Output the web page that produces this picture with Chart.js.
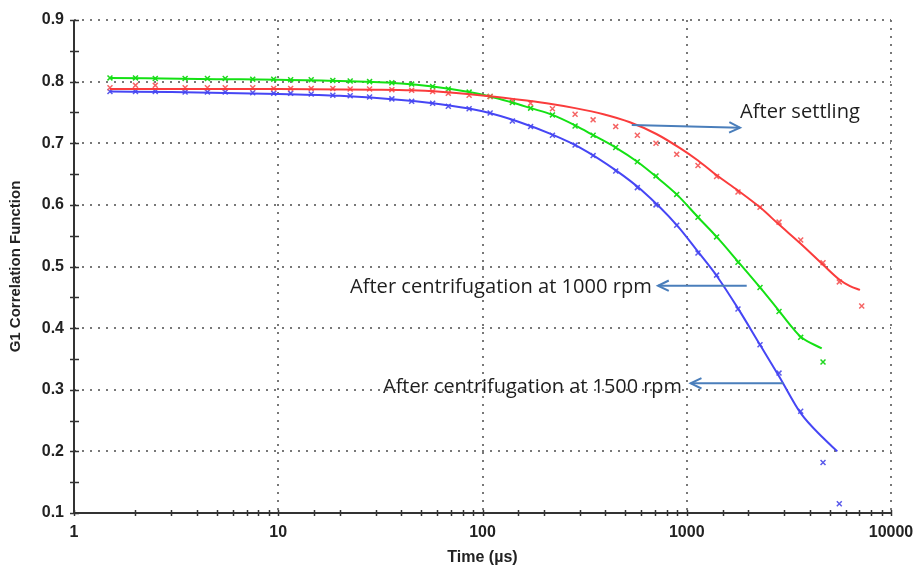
<!DOCTYPE html>
<html>
<head>
<meta charset="utf-8">
<script src="https://cdn.jsdelivr.net/npm/chart.js@4.4.1/dist/chart.umd.min.js"></script>
<style>
html, body { margin: 0; padding: 0; background: #fff; }
#wrap { width: 917px; height: 566px; position: relative; }
</style>
</head>
<body>
<div id="wrap"><canvas id="g1"></canvas></div>
<script>
// lag times of the measured points (us)
var timeUs = [1.5, 2, 2.5, 3.5, 4.5, 5.5, 7.5, 9.5, 11.5, 14.5, 18.5, 22.5, 28, 36, 45, 57, 68, 86,
    109, 140, 172, 220, 284, 348, 449, 573, 707, 893, 1135, 1400, 1782, 2284, 2830, 3613, 4647, 5583, 7188];

// measured G1 values
var settling = [0.790, 0.794, 0.794, 0.790, 0.790, 0.790, 0.790, 0.789, 0.789, 0.789, 0.789, 0.788, 0.788, 0.787, 0.786, 0.784, 0.781, 0.778,
    0.776, 0.769, 0.765, 0.756, 0.747, 0.738, 0.727, 0.713, 0.700, 0.682, 0.664, 0.646, 0.621, 0.596, 0.572, 0.543, 0.506, 0.475, 0.436];
var rpm1000 = [0.806, 0.806, 0.805, 0.805, 0.805, 0.805, 0.804, 0.804, 0.803, 0.803, 0.802, 0.801, 0.800, 0.798, 0.796, 0.792, 0.788, 0.783,
    0.776, 0.766, 0.757, 0.746, 0.728, 0.713, 0.693, 0.670, 0.647, 0.617, 0.580, 0.548, 0.507, 0.466, 0.427, 0.385, 0.345];
var rpm1500 = [0.784, 0.784, 0.784, 0.783, 0.783, 0.783, 0.782, 0.781, 0.781, 0.780, 0.778, 0.777, 0.775, 0.772, 0.768, 0.765, 0.760, 0.756,
    0.749, 0.736, 0.727, 0.713, 0.697, 0.680, 0.655, 0.628, 0.600, 0.567, 0.522, 0.486, 0.431, 0.373, 0.327, 0.265, 0.182, 0.115];

// fitted curves
var fitSettlingT = [1.5, 3, 10, 30, 45, 60, 97, 141, 206, 284, 391, 527, 710, 927, 1135, 1402, 1788, 2284, 2830, 3613, 4647, 5583, 6300, 7050];
var fitSettling = [0.788, 0.788, 0.788, 0.787, 0.786, 0.784, 0.778, 0.772, 0.765, 0.757, 0.747, 0.734, 0.715, 0.692, 0.672, 0.648, 0.623, 0.596, 0.568, 0.537, 0.503, 0.479, 0.468, 0.462];
var fit1000T = [1.5, 5, 10, 20, 40, 57, 86, 109, 140, 172, 220, 284, 349, 449, 573, 707, 893, 1135, 1402, 1782, 2284, 2830, 3265, 3613, 4580];
var fit1000 = [0.806, 0.804, 0.803, 0.801, 0.797, 0.792, 0.783, 0.776, 0.766, 0.757, 0.746, 0.729, 0.713, 0.693, 0.670, 0.646, 0.617, 0.580, 0.548, 0.508, 0.466, 0.428, 0.402, 0.386, 0.367];
var fit1500T = [1.5, 3, 10, 20, 40, 70, 100, 150, 220, 300, 450, 600, 900, 1135, 1400, 1782, 2284, 2830, 3613, 4647, 5460];
var fit1500 = [0.784, 0.783, 0.780, 0.777, 0.770, 0.761, 0.752, 0.735, 0.714, 0.693, 0.656, 0.624, 0.566, 0.524, 0.485, 0.432, 0.373, 0.322, 0.262, 0.222, 0.200];

var xMin = 1, xMax = 10000;
var yMin = 0.1, yMax = 0.9;

function pts(xs, ys) {
    var out = [];
    for (var i = 0; i < ys.length; i++) out.push({x: xs[i], y: ys[i]});
    return out;
}
function isDecade(v) {
    var l = Math.log10(v);
    return Math.abs(l - Math.round(l)) < 1e-9;
}
function isTenth(v) {
    return Math.abs(v * 10 - Math.round(v * 10)) < 1e-6;
}

// text labels with arrows, placed in data units
var notes = [
    {text: 'After settling', x0: 1823, x1: 7050, y: 0.7507, a0: [538, 0.7296], a1: [1823, 0.7252]},
    {text: 'After centrifugation at 1000 rpm', x0: 22.45, x1: 676, y: 0.4667, a0: [1966, 0.4688], a1: [723, 0.4688]},
    {text: 'After centrifugation at 1500 rpm', x0: 32.6, x1: 948, y: 0.3045, a0: [2970, 0.3105], a1: [1045, 0.3105]}
];

var axesAndNotes = {
    id: 'axesAndNotes',
    afterDraw: function (chart) {
        var c = chart.ctx, xs = chart.scales.x, ys = chart.scales.y, a = chart.chartArea;
        c.save();
        // solid axes with crossing tick marks
        c.strokeStyle = '#333';
        c.lineWidth = 2;
        c.beginPath();
        c.moveTo(a.left, a.top); c.lineTo(a.left, a.bottom); c.lineTo(a.right, a.bottom);
        c.stroke();
        c.lineWidth = 1.5;
        ys.ticks.forEach(function (t) {
            var py = Math.round(ys.getPixelForValue(t.value)) + 0.5;
            c.beginPath(); c.moveTo(a.left - 4, py); c.lineTo(a.left + 5, py); c.stroke();
        });
        xs.ticks.forEach(function (t) {
            var px = Math.round(xs.getPixelForValue(t.value)) + 0.5;
            c.beginPath(); c.moveTo(px, a.bottom - 3); c.lineTo(px, a.bottom + 3); c.stroke();
        });
        // annotations
        notes.forEach(function (n) {
            var left = xs.getPixelForValue(n.x0), right = xs.getPixelForValue(n.x1);
            c.font = '17px "Open Sans"';
            var size = 17 * (right - left) / c.measureText(n.text).width;
            c.font = size.toFixed(1) + 'px "Open Sans"';
            c.fillStyle = '#1e1e1e';
            c.textAlign = 'left';
            c.textBaseline = 'middle';
            c.fillText(n.text, left, ys.getPixelForValue(n.y));
            var p0x = xs.getPixelForValue(n.a0[0]), p0y = ys.getPixelForValue(n.a0[1]);
            var p1x = xs.getPixelForValue(n.a1[0]), p1y = ys.getPixelForValue(n.a1[1]);
            var ang = Math.atan2(p1y - p0y, p1x - p0x);
            c.strokeStyle = '#4a7ebb';
            c.lineWidth = 2;
            c.beginPath(); c.moveTo(p0x, p0y); c.lineTo(p1x, p1y); c.stroke();
            c.beginPath();
            c.moveTo(p1x - 12 * Math.cos(ang - 0.45), p1y - 12 * Math.sin(ang - 0.45));
            c.lineTo(p1x, p1y);
            c.lineTo(p1x - 12 * Math.cos(ang + 0.45), p1y - 12 * Math.sin(ang + 0.45));
            c.stroke();
        });
        c.restore();
    }
};

function lineSet(data, color) {
    return {data: data, showLine: true, borderColor: color, borderWidth: 2, pointRadius: 0,
        cubicInterpolationMode: 'monotone', fill: false};
}
function markSet(data, color) {
    return {data: data, showLine: false, pointStyle: 'crossRot', pointRadius: 3.5, borderWidth: 1.5,
        borderColor: color, backgroundColor: color};
}

var gridColor = 'rgba(105,105,105,0.9)';

var config = {
    type: 'scatter',
    data: {
        datasets: [
            lineSet(pts(fitSettlingT, fitSettling), 'rgb(250,60,60)'),
            lineSet(pts(fit1000T, fit1000), 'rgb(20,225,20)'),
            lineSet(pts(fit1500T, fit1500), 'rgb(70,70,245)'),
            markSet(pts(timeUs, settling), 'rgb(245,100,100)'),
            markSet(pts(timeUs, rpm1000), 'rgb(30,215,30)'),
            markSet(pts(timeUs, rpm1500), 'rgb(90,90,235)')
        ]
    },
    options: {
        responsive: true,
        maintainAspectRatio: false,
        animation: false,
        devicePixelRatio: 1,
        layout: {padding: {left: 0, right: 26, top: 20, bottom: 0}},
        plugins: {legend: {display: false}, tooltip: {enabled: false}},
        scales: {
            x: {
                type: 'logarithmic',
                min: xMin, max: xMax,
                afterFit: function (s) { s.height = 53; s.paddingLeft = 0; s.paddingRight = 0; },
                grid: {
                    color: function (ctx) { return ctx.tick && isDecade(ctx.tick.value) ? gridColor : 'rgba(0,0,0,0)'; },
                    lineWidth: 2, borderDash: [2, 6], drawTicks: false
                },
                border: {display: false, dash: [2, 6]},
                ticks: {
                    autoSkip: false, maxRotation: 0, padding: 10, color: '#222',
                    font: {family: 'Arial, "Liberation Sans"', size: 16, weight: 'bold'},
                    callback: function (v) { return isDecade(v) ? String(Math.round(v)) : ''; }
                },
                title: {display: true, text: 'Time (µs)', color: '#222', padding: {top: 0, bottom: 0},
                    font: {family: 'Arial, "Liberation Sans"', size: 16, weight: 'bold', lineHeight: 1}}
            },
            y: {
                min: yMin, max: yMax,
                afterFit: function (s) { s.width = 74; s.paddingTop = 0; s.paddingBottom = 0; },
                grid: {
                    color: function (ctx) { return ctx.tick && isTenth(ctx.tick.value) ? gridColor : 'rgba(0,0,0,0)'; },
                    lineWidth: 2, borderDash: [2, 6], drawTicks: false
                },
                border: {display: false, dash: [2, 6]},
                ticks: {
                    stepSize: 0.05, autoSkip: false, padding: 10, color: '#222',
                    font: {family: 'Arial, "Liberation Sans"', size: 16, weight: 'bold'},
                    callback: function (v) { return isTenth(v) ? v.toFixed(1) : ''; }
                },
                title: {display: true, text: 'G1 Correlation Function', color: '#222', padding: {top: 7, bottom: 0},
                    font: {family: 'Arial, "Liberation Sans"', size: 15, weight: 'bold'}}
            }
        }
    },
    plugins: [axesAndNotes]
};

var graphique = new Chart(document.getElementById('g1'), config);
</script>
</body>
</html>
